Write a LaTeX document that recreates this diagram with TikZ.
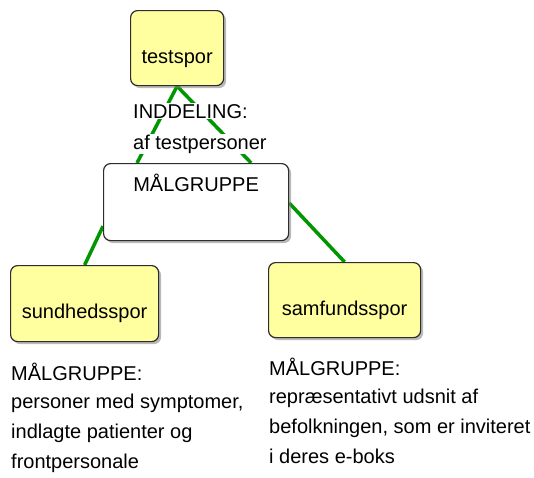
\documentclass[tikz,border=0pt]{standalone}
\usepackage{fontspec}
\setmainfont{Liberation Sans}
\usetikzlibrary{shadows,backgrounds}
\definecolor{boxyellow}{RGB}{255,255,160}
\definecolor{linkgreen}{RGB}{0,150,0}
\definecolor{boxline}{RGB}{45,45,45}

\begin{document}
\begin{tikzpicture}[x=1pt,y=-1pt,
    every node/.style={font=\fontsize{20pt}{30pt}\selectfont},
    concept/.style={draw=boxline, line width=1.2pt, rounded corners=7pt,
      inner sep=0pt, anchor=north west,
      drop shadow={shadow xshift=2.5pt, shadow yshift=-2.5pt, opacity=0.55}},
    track/.style={concept, fill=boxyellow, text height=53pt, text depth=22pt},
    link/.style={draw=linkgreen, line width=3.5pt},
    linktext/.style={fill=white, inner sep=1pt, anchor=base west},
    note/.style={align=left, anchor=base west, inner sep=0pt}]
    \useasboundingbox (0,0) rectangle (534,477);

    \node[track, minimum width=93pt] (test) at (130,10) {testspor};
    \node[concept, fill=white, minimum width=185pt, text height=28pt,
      text depth=49pt] (maal) at (103,163) {MÅLGRUPPE};
    \node[track, minimum width=148pt, text depth=23pt] (sund) at (10,265)
      {sundhedsspor};
    \node[track, minimum width=152pt] (samf) at (268,262) {samfundsspor};

    \begin{scope}[on background layer]
      \draw[link] (test.south) -- ([xshift=34pt]maal.north west);
      \draw[link] (test.south) -- ([xshift=-38pt]maal.north east);
      \draw[link] ([yshift=15pt]maal.south west) -- (sund.north);
      \draw[link] ([yshift=-40pt]maal.north east) -- (samf.north);
    \end{scope}

    \node[linktext] (inddel) at (132,118) {INDDELING:};
    \node[linktext] (inddelb) at (132,149) {af testpersoner};

    % base of a multi-line note = baseline of its last line
    \node[note] (sundnote) at (11,468) {MÅLGRUPPE:\\[-2pt]
      personer med symptomer,\\indlagte patienter og\\frontpersonale};
    \node[note] (samfnote) at (269,463) {MÅLGRUPPE:\\[-2pt]
      repræsentativt udsnit af\\befolkningen, som er inviteret\\i deres e-boks};
  \end{tikzpicture}
\end{document}
